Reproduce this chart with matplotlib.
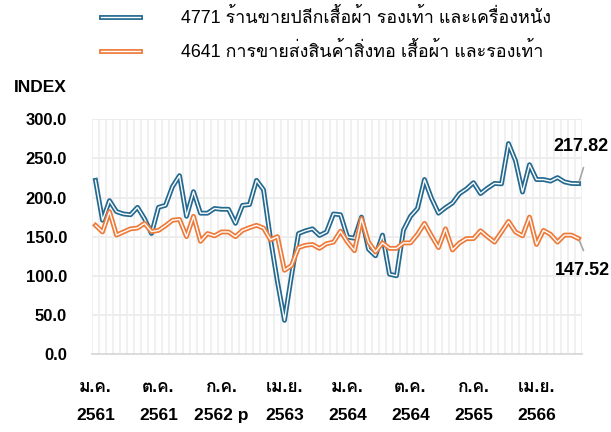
import matplotlib
matplotlib.use("Agg")
import matplotlib.pyplot as plt
import matplotlib.font_manager as fm
import matplotlib.patheffects as pe
from matplotlib.ft2font import FT2Font
import numpy as np

# ---------------- data ----------------
series_names = ["4771 ร้านขายปลีกเสื้อผ้า รองเท้า และเครื่องหนัง",
                "4641 การขายส่งสินค้าสิ่งทอ เสื้อผ้า และรองเท้า"]
retail = [222, 171, 196, 182, 179, 178, 187.5, 173, 154, 187.5,
          190, 214, 228, 176, 207.5, 180, 180, 186, 185, 185,
          167, 190, 191, 222, 210, 147, 92, 43, 100, 154,
          157.5, 160, 151.5, 156, 179, 178, 149.5, 148, 175, 134,
          125.5, 152, 102, 100, 158.5, 176, 186, 223, 199, 180,
          187, 193, 205, 211, 219, 205, 212, 218, 217.5, 269,
          247, 207, 242, 223, 223, 221, 225.5, 220, 218, 217.82]
wholesale = [164.5, 156, 182, 152, 156, 160, 161, 167, 156.5, 158,
             164, 171, 172, 150, 176, 144, 154, 151, 156, 156,
             150, 158, 161.5, 164.5, 161, 146, 150, 107, 113, 136,
             139, 140, 135, 141, 143, 157, 143, 132, 173, 143,
             130.5, 142, 135, 135, 142, 142, 153, 167, 151, 136,
             160, 133, 142, 147.5, 147.5, 157.5, 150, 143, 156, 169.5,
             156, 151, 175, 140, 158, 153, 143, 152, 152, 147.52]
tick_idx = [0, 9, 18, 27, 36, 45, 54, 63]
tick_months = ["ม.ค.", "ต.ค.", "ก.ค.", "เม.ย.", "ม.ค.", "ต.ค.", "ก.ค.", "เม.ย."]
tick_years = ["2561", "2561", "2562 p", "2563", "2564", "2564", "2565", "2566"]
y_ticks = [0, 50, 100, 150, 200, 250, 300]

# ---------------- fonts ----------------
thai = []
for f in fm.fontManager.ttflist:
    try:
        if 0x0E01 in FT2Font(f.fname).get_charmap():
            if f.name not in thai:
                thai.append(f.name)
    except Exception:
        pass
pref = [n for n in ["Loma", "Tahoma", "Waree", "Garuda"] if n in thai]
thai_font = (pref or thai or ["DejaVu Sans"])[0]
fam = ["Liberation Sans", thai_font, "DejaVu Sans"]
plt.rcParams["font.family"] = fam

BLUE = "#24698F"
ORANGE = "#EE7A3A"
GRID = "#ECECEC"

fig = plt.figure(figsize=(6.11, 4.32), dpi=100)
ax = fig.add_axes([92/611, 1-354/432, 490/611, (354-119.3)/432])

x = np.arange(len(retail))
for vals, col, name in [(retail, BLUE, series_names[0]), (wholesale, ORANGE, series_names[1])]:
    ax.plot(x, vals, color="white", lw=1.0, label=name, zorder=3,
            path_effects=[pe.Stroke(linewidth=3.5, foreground=col), pe.Normal()])

ax.set_xlim(-0.5, len(retail)-0.5)
ax.set_ylim(0, 300)
ax.set_yticks(y_ticks)
ax.set_yticklabels([f"{v:.1f}" for v in y_ticks], fontsize=12, fontweight="bold")
ax.set_xticks(tick_idx)
ax.set_xticklabels([f"{m}\n{y}" for m, y in zip(tick_months, tick_years)],
                   fontsize=12.5, fontweight="bold", linespacing=2.1)
ax.set_xticks(np.arange(-0.5, len(retail), 1), minor=True)
ax.tick_params(axis="both", which="both", length=0)
ax.tick_params(axis="x", pad=18.5)
ax.tick_params(axis="y", pad=18)
ax.grid(True, axis="y", which="major", color=GRID, lw=1.3)
ax.grid(True, axis="x", which="minor", color=GRID, lw=1.1)
ax.grid(False, axis="x", which="major")
for s in ["top", "right", "left"]:
    ax.spines[s].set_visible(False)
ax.spines["bottom"].set_color("#D9D9D9")
ax.spines["bottom"].set_linewidth(1.3)
ax.set_axisbelow(True)

fig.text(40/611, 1-88/432, "INDEX", fontsize=12.5, fontweight="bold", ha="center", va="center")

px = 0.72  # points per pixel at 100 dpi
ax.annotate(f"{retail[-1]:.2f}", xy=(len(retail)-1, retail[-1]), xytext=(2.5*px, 37*px),
            textcoords="offset points", ha="center", va="center", fontsize=13, fontweight="bold",
            annotation_clip=False)
ax.annotate("", xy=(len(retail)-1, retail[-1]), xytext=(5*px, 16*px),
            textcoords="offset points", annotation_clip=False,
            arrowprops=dict(arrowstyle="-", color="#A6A6A6", lw=1.2, shrinkA=0, shrinkB=2))
ax.annotate(f"{wholesale[-1]:.2f}", xy=(len(wholesale)-1, wholesale[-1]), xytext=(3.5*px, -31.5*px),
            textcoords="offset points", ha="center", va="center", fontsize=13, fontweight="bold",
            annotation_clip=False)
ax.annotate("", xy=(len(wholesale)-1, wholesale[-1]), xytext=(5*px, -12*px),
            textcoords="offset points", annotation_clip=False,
            arrowprops=dict(arrowstyle="-", color="#A6A6A6", lw=1.2, shrinkA=0, shrinkB=2))

fig.legend(loc="upper left", bbox_to_anchor=(101/611, 1-8/432), frameon=False,
           borderpad=0, borderaxespad=0, handlelength=2.15, handletextpad=2.3,
           labelspacing=0.85, fontsize=12.9)

fig.savefig("out.png", dpi=100)
